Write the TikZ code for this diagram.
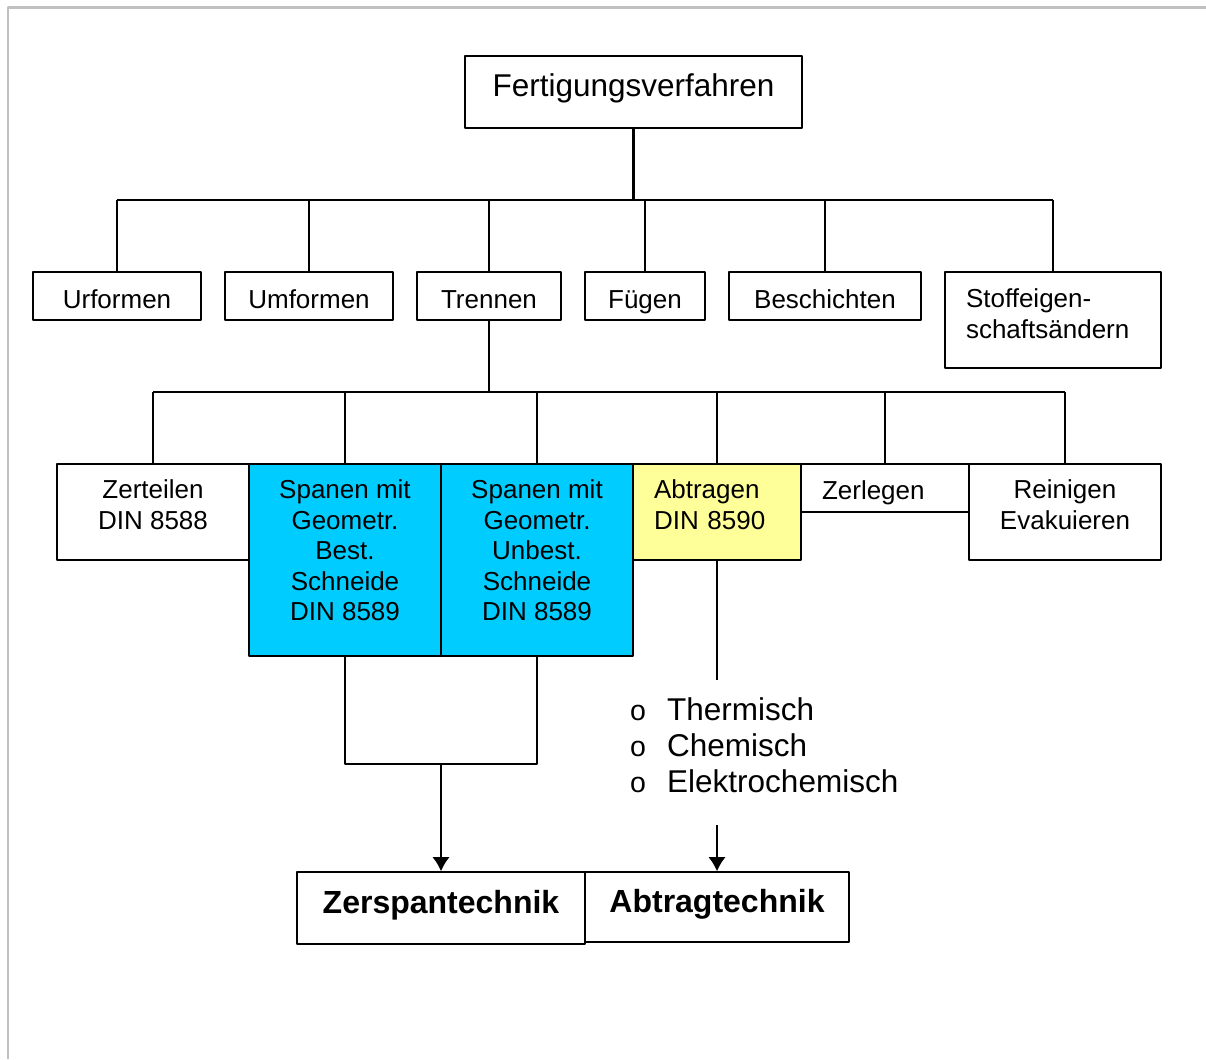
\documentclass[tikz,border=0pt]{standalone}
\usepackage{fontspec}
\setmainfont{Liberation Sans}
\usetikzlibrary{arrows.meta}

\definecolor{spancyan}{HTML}{00CCFF}
\definecolor{abtraggelb}{HTML}{FFFF99}
\definecolor{framegray}{HTML}{C0C0C0}
\newcommand{\listpunkt}{\makebox[37pt][l]{\fontsize{28.5}{28.5}\selectfont o}}

\begin{document}
\begin{tikzpicture}[x=1pt,y=-1pt,>={Latex[length=14pt,width=17pt]},line join=bevel,
  box/.style={draw,line width=1.6pt,inner sep=0pt,font=\fontsize{26}{30.5}\selectfont},
  rowtwo/.style={box,minimum height=48pt,text height=24pt,text depth=0pt},
  link/.style={line width=1.3pt},
  trunk/.style={line width=2.2pt},
  frame/.style={draw=framegray,line width=2.4pt},
]

\useasboundingbox (0,0) rectangle (1206,1059);
\draw[frame] (8,1059) -- (8,7.5) -- (1206,7.5);

% Node: Fertigungsverfahren
\node[box,minimum width=337pt,minimum height=72pt,font=\fontsize{31.5}{36}\selectfont,
  text height=23pt,text depth=13.6pt] (fv) at (633.5,92) {Fertigungsverfahren};

% Nodes: Hauptgruppen
\node[rowtwo,minimum width=168pt] (uf) at (117,296) {Urformen};
\node[rowtwo,minimum width=168pt] (umf) at (309,296) {Umformen};
\node[rowtwo,minimum width=144pt] (tr) at (489,296) {Trennen};
\node[rowtwo,minimum width=120pt] (fg) at (645,296) {Fügen};
\node[rowtwo,minimum width=192pt] (bs) at (825,296) {Beschichten};
\node[box,minimum width=216pt,minimum height=96pt,text width=174pt,align=left] (st) at (1053,320)
  {Stoffeigen-\\schaftsändern\rule[-13pt]{0pt}{13pt}};

% Nodes: Trennen
\node[box,minimum width=192pt,minimum height=96pt,align=center] (zte) at (153,512)
  {Zerteilen\\DIN 8588\rule[-15pt]{0pt}{15pt}};
\node[box,fill=spancyan,minimum width=192pt,minimum height=192pt,align=center] (sp1) at (345,560)
  {Spanen mit\\Geometr.\\Best.\\Schneide\\DIN 8589\rule[-19pt]{0pt}{19pt}};
\node[box,fill=spancyan,minimum width=192pt,minimum height=192pt,align=center] (sp2) at (537,560)
  {Spanen mit\\Geometr.\\Unbest.\\Schneide\\DIN 8589\rule[-19pt]{0pt}{19pt}};
\node[box,fill=abtraggelb,minimum width=168pt,minimum height=96pt,text width=126pt,align=left] (ab) at (717,512)
  {Abtragen\\DIN 8590\rule[-15pt]{0pt}{15pt}};
\node[box,minimum width=168pt,minimum height=48pt,text width=126pt,align=left,
  text height=22pt,text depth=0pt] (zl) at (885,488) {Zerlegen};
\node[box,minimum width=192pt,minimum height=96pt,align=center] (re) at (1065,512)
  {Reinigen\\Evakuieren\rule[-15pt]{0pt}{15pt}};

% Node: Verfahren list
\node[anchor=north west,inner sep=0pt,align=left,font=\fontsize{31.5}{36.2}\selectfont] (verf) at (630,697)
  {\listpunkt Thermisch\\\listpunkt Chemisch\\\listpunkt Elektrochemisch};

% Nodes: Technik
\node[box,minimum width=288pt,minimum height=72pt,font=\bfseries\fontsize{32}{36}\selectfont,
  text height=23pt,text depth=12.4pt] (zsp) at (441,908) {Zerspantechnik};
\node[box,minimum width=264pt,minimum height=70pt,font=\bfseries\fontsize{32}{36}\selectfont,
  text height=23pt,text depth=12.4pt] (atk) at (717,907) {Abtragtechnik};

% Edge: fv -> Hauptgruppen
\coordinate (bus1) at (633.5,200);
\draw[trunk] (fv.south) -- (bus1);
\draw[trunk] (bus1 -| uf.north) -- (bus1 -| st.north);
\foreach \n in {uf,umf,tr,fg,bs,st}
  \draw[link] (\n.north) -- (\n.north |- bus1);

% Edge: tr -> Trennen
\coordinate (bus2) at (489,392);
\draw[trunk] (tr.south) -- (bus2);
\draw[trunk] (bus2 -| zte.north) -- (bus2 -| re.north);
\foreach \n in {zte,sp1,sp2,ab,zl,re}
  \draw[link] (\n.north) -- (\n.north |- bus2);

% Edge: sp1, sp2 -> zsp
\coordinate (join) at (441,764);
\draw[link] (sp1.south) |- (join) -| (sp2.south);
\draw[link,->] (join) -- (zsp.north);

% Edge: ab -> atk
\coordinate (abend) at (717,680);
\coordinate (abstart) at (717,825);
\draw[link] (ab.south) -- (abend);
\draw[link,->] (abstart) -- (atk.north);

\end{tikzpicture}
\end{document}
